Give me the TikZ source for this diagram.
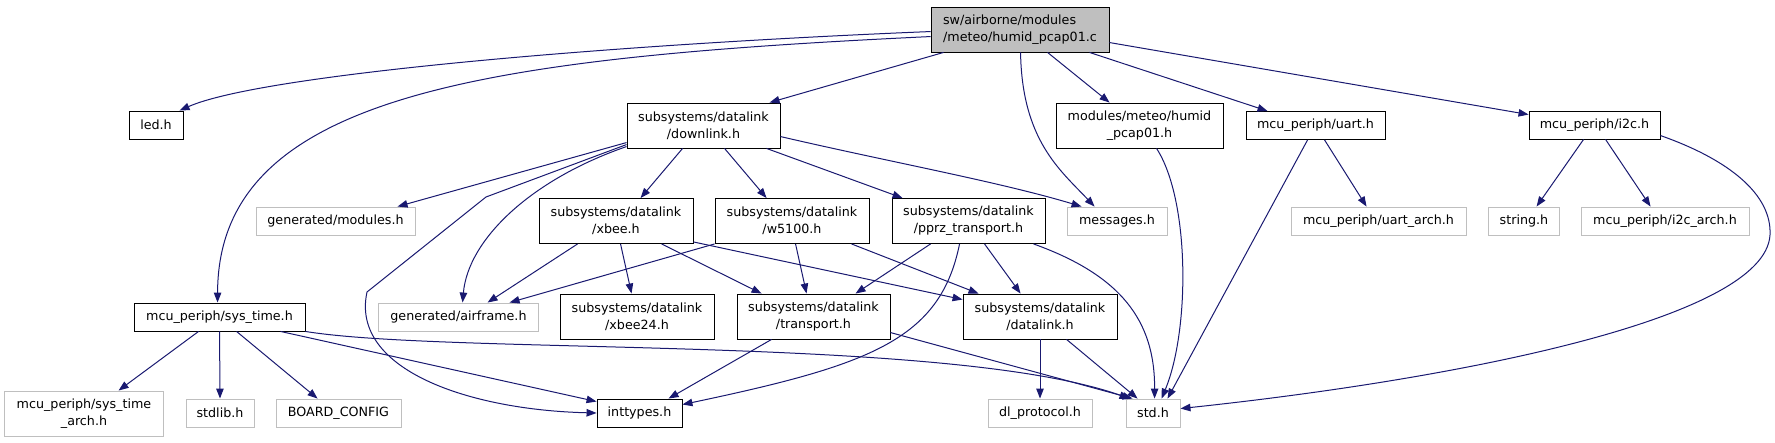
\documentclass[tikz,border=0pt]{standalone}
\usepackage{fontspec}
\setmainfont{DejaVu Sans}
\usetikzlibrary{arrows.meta,calc}
\definecolor{edgeblue}{RGB}{25,25,112}
\definecolor{ugrey}{RGB}{191,191,191}
\definecolor{mainfill}{RGB}{191,191,191}
\newcommand{\dgfont}{\fontsize{12.7pt}{17pt}\selectfont}
\tikzset{
  box/.style={draw=black, line width=0.9pt, fill=white, inner sep=0pt, align=center, font=\dgfont, minimum height=28pt},
  undoc/.style={box, draw=ugrey},
  tall/.style={minimum height=45pt},
  link/.style={draw=edgeblue, line width=1pt, -{Triangle[length=10pt,width=7.5pt]}, fill=none},
}
\begin{document}
\begin{tikzpicture}[x=1pt,y=-1pt]
\useasboundingbox (0,0) rectangle (1775,443);
% nodes
\node[box, tall, minimum width=178pt, fill=mainfill, align=left] (main) at (1020,29.5) {sw/airborne/modules\\/meteo/humid\_pcap01.c};
\node[box, minimum width=54pt] (led) at (156,125) {led.h};
\node[box, minimum width=171pt] (sys) at (219.5,317) {mcu\_periph/sys\_time.h};
\node[box, tall, minimum width=153pt] (downlink) at (703.5,125.5) {subsystems/datalink\\/downlink.h};
\node[undoc, minimum width=100pt] (messages) at (1117,221) {messages.h};
\node[box, tall, minimum width=167pt] (humid) at (1139.5,125.5) {modules/meteo/humid\\\_pcap01.h};
\node[box, minimum width=139pt] (uart) at (1315.5,125.5) {mcu\_periph/uart.h};
\node[box, minimum width=131pt] (i2c) at (1594.5,125) {mcu\_periph/i2c.h};
\node[undoc, minimum width=159pt] (modules) at (335.5,221) {generated/modules.h};
\node[undoc, minimum width=160pt] (airframe) at (458.5,317) {generated/airframe.h};
\node[box, tall, minimum width=154pt] (xbee) at (616,221) {subsystems/datalink\\/xbee.h};
\node[box, tall, minimum width=154pt] (w5100) at (792,221) {subsystems/datalink\\/w5100.h};
\node[box, tall, minimum width=153pt] (pprz) at (968.5,221) {subsystems/datalink\\/pprz\_transport.h};
\node[undoc, minimum width=175pt] (uartarch) at (1378.5,221) {mcu\_periph/uart\_arch.h};
\node[undoc, minimum width=71pt] (string) at (1524,221) {string.h};
\node[undoc, minimum width=168pt] (i2carch) at (1665,221) {mcu\_periph/i2c\_arch.h};
\node[box, tall, minimum width=154pt] (xbee24) at (637,316.5) {subsystems/datalink\\/xbee24.h};
\node[box, tall, minimum width=153pt] (transport) at (813.5,316.5) {subsystems/datalink\\/transport.h};
\node[box, tall, minimum width=154pt] (datalink) at (1040,316.5) {subsystems/datalink\\/datalink.h};
\node[box, minimum width=85pt] (inttypes) at (639.5,413) {inttypes.h};
\node[undoc, minimum width=104pt] (dlproto) at (1040,413) {dl\_protocol.h};
\node[undoc, minimum width=54pt] (std) at (1153,413) {std.h};
\node[undoc, tall, minimum width=159pt] (systarch) at (84,413.5) {mcu\_periph/sys\_time\\\_arch.h};
\node[undoc, minimum width=68pt] (stdlib) at (220,413) {stdlib.h};
\node[undoc, minimum width=125pt] (board) at (338.5,413) {BOARD\_CONFIG};
% edges from main
\draw[link] ($(main.north west)+(0,25)$) .. controls (600,45) and (260,75) .. ($(led.north west)+(51,0)$);
\draw[link] ($(main.north west)+(0,30)$) .. controls (480,58) and (218,95) .. ($(sys.north west)+(84,0)$);
\draw[link] ($(main.south west)+(13,0)$) -- ($(downlink.north west)+(143,0)$);
\draw[link] ($(main.south west)+(90,0)$) .. controls (1022,140) and (1060,170) .. ($(messages.north west)+(28,0)$);
\draw[link] ($(main.south west)+(117,0)$) -- ($(humid.north west)+(54,0)$);
\draw[link] ($(main.south west)+(159,0)$) -- ($(uart.north west)+(22,0)$);
\draw[link] ($(main.north east)+(0,36)$) -- ($(i2c.north west)+(0,4)$);
% edges from downlink
\draw[link] ($(downlink.north west)+(0,40)$) -- ($(modules.north west)+(142,0)$);
\draw[link] ($(downlink.north west)+(0,44)$) .. controls (530,180) and (468,240) .. ($(airframe.north west)+(84.5,0)$);
\draw[link] ($(downlink.north west)+(0,42)$) -- (486,197) -- (367,292) .. controls (350,370) and (470,410) .. (inttypes.west);
\draw[link] ($(downlink.south west)+(56,0)$) -- ($(xbee.north west)+(102,0)$);
\draw[link] ($(downlink.south west)+(98,0)$) -- ($(w5100.north west)+(52,0)$);
\draw[link] ($(downlink.south west)+(140,0)$) -- ($(pprz.north west)+(11,0)$);
\draw[link] ($(downlink.north east)+(0,34)$) .. controls (890,162) and (1000,182) .. ($(messages.north west)+(15,0)$);
% edges from xbee
\draw[link] ($(xbee.south west)+(39,0)$) -- ($(airframe.north west)+(109.5,0)$);
\draw[link] ($(xbee.south west)+(82,0)$) -- ($(xbee24.north west)+(72,0)$);
\draw[link] ($(xbee.south west)+(123,0)$) -- ($(transport.north west)+(25,0)$);
\draw[link] ($(xbee.south east)+(0,-2)$) -- ($(datalink.north west)+(0,6)$);
% edges from w5100
\draw[link] (w5100.south west) -- ($(airframe.north west)+(131.5,0)$);
\draw[link] ($(w5100.south west)+(81,0)$) -- ($(transport.north west)+(70,0)$);
\draw[link] ($(w5100.south west)+(137,0)$) -- ($(datalink.north west)+(16,0)$);
% edges from pprz
\draw[link] ($(pprz.south west)+(39,0)$) -- ($(transport.north west)+(119,0)$);
\draw[link] ($(pprz.south west)+(93,0)$) -- ($(datalink.north west)+(58,0)$);
\draw[link] ($(pprz.south west)+(68,0)$) .. controls (940,340) and (870,365) .. ($(inttypes.north east)+(0,6)$);
\draw[link] ($(pprz.south west)+(142,0)$) .. controls (1120,275) and (1155,320) .. ($(std.north west)+(29,0)$);
% transport, datalink
\draw[link] ($(transport.south west)+(35,0)$) -- ($(inttypes.north west)+(72,0)$);
\draw[link] ($(transport.north east)+(0,39)$) -- ($(std.north west)+(7,0)$);
\draw[link] (datalink.south) -- (dlproto.north);
\draw[link] ($(datalink.south west)+(104,0)$) -- ($(std.north west)+(12,0)$);
% sys_time
\draw[link] ($(sys.south west)+(65,0)$) -- ($(systarch.north west)+(114.5,0)$);
\draw[link] ($(sys.south west)+(86,0)$) -- (stdlib.north);
\draw[link] ($(sys.south west)+(103,0)$) -- ($(board.north west)+(42,0)$);
\draw[link] ($(sys.south west)+(147,0)$) -- ($(inttypes.north west)+(0,3)$);
\draw[link] (sys.south east) .. controls (450,355) and (950,335) .. ($(std.north west)+(4,0)$);
% humid, uart, i2c
\draw[link] ($(humid.south west)+(101,0)$) .. controls (1190,200) and (1190,330) .. ($(std.north west)+(36,0)$);
\draw[link] ($(uart.south west)+(79,0)$) -- ($(uartarch.north west)+(76,0)$);
\draw[link] ($(uart.south west)+(62,0)$) -- ($(std.north west)+(42,0)$);
\draw[link] ($(i2c.south west)+(55,0)$) -- ($(string.north west)+(48.5,0)$);
\draw[link] ($(i2c.south west)+(77,0)$) -- ($(i2carch.north west)+(70,0)$);
\draw[link] ($(i2c.north east)+(0,25)$) .. controls (1730,160) and (1772,195) .. (1770,235) .. controls (1765,320) and (1450,380) .. ($(std.north east)+(0,10)$);
\end{tikzpicture}
\end{document}
